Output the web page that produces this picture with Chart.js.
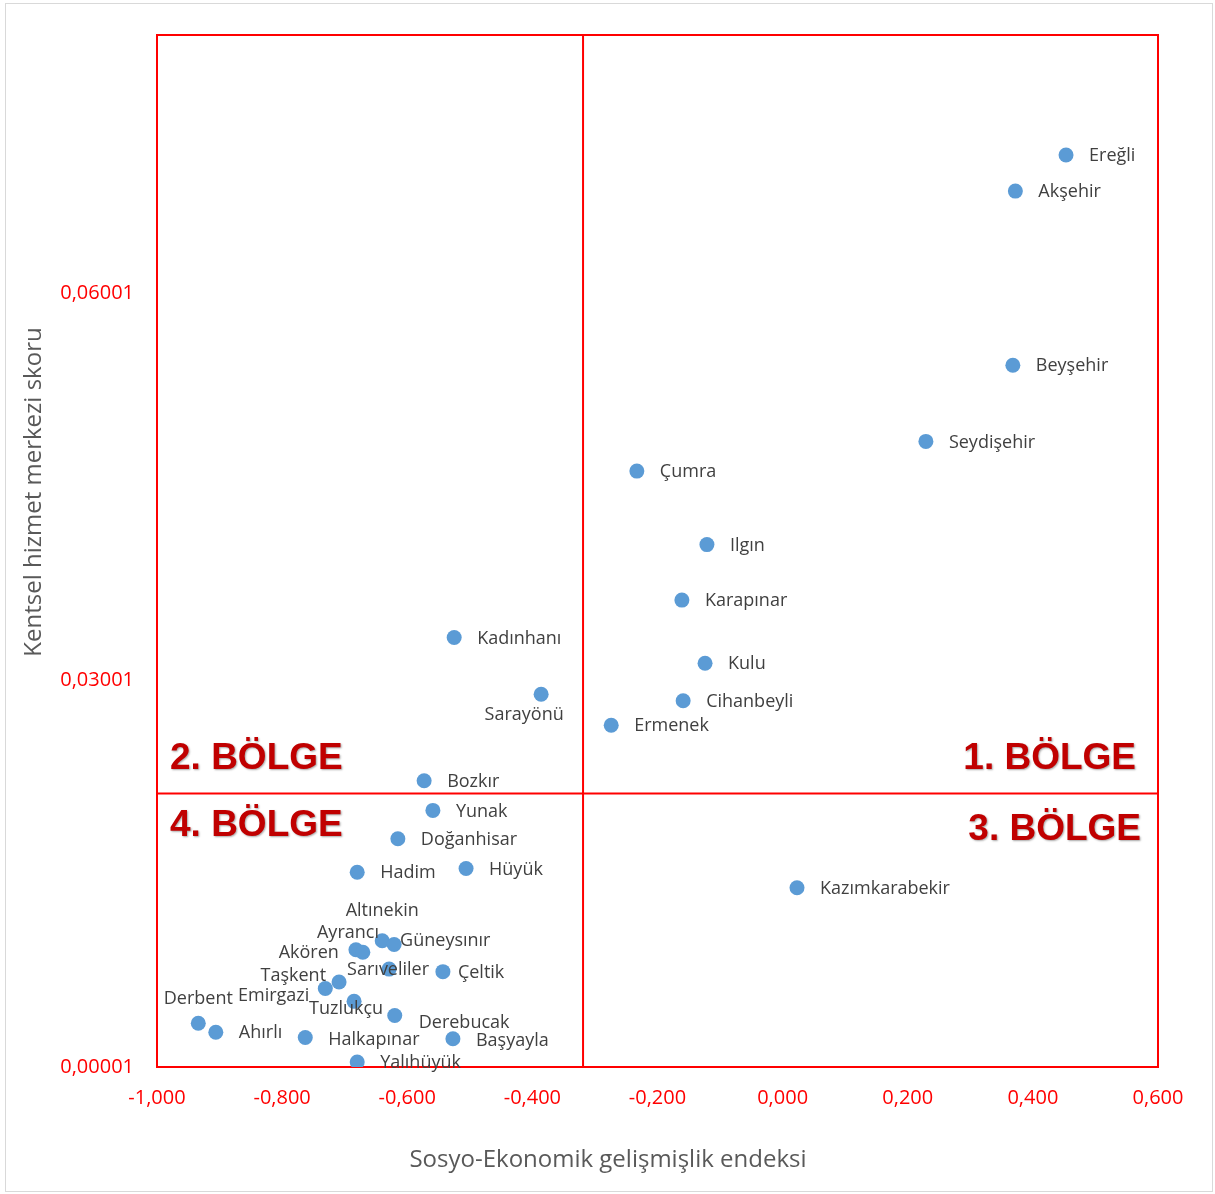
<!DOCTYPE html>
<html>
<head>
<meta charset="utf-8">
<script src="https://cdn.jsdelivr.net/npm/chart.js@4"></script>
<style>
  body { margin: 0; background: #fff; }
  canvas { display: block; }
</style>
</head>
<body>
<canvas id="chart" width="1215" height="1194"></canvas>
<script>
  // District names and their two scores
  const districts = ['Ereğli', 'Akşehir', 'Beyşehir', 'Seydişehir', 'Çumra', 'Ilgın', 'Karapınar', 'Kulu',
    'Cihanbeyli', 'Ermenek', 'Kadınhanı', 'Sarayönü', 'Bozkır', 'Yunak', 'Doğanhisar', 'Hadim', 'Hüyük',
    'Kazımkarabekir', 'Altınekin', 'Güneysınır', 'Ayrancı', 'Akören', 'Sarıveliler', 'Çeltik', 'Taşkent',
    'Emirgazi', 'Tuzlukçu', 'Derebucak', 'Derbent', 'Ahırlı', 'Halkapınar', 'Başyayla', 'Yalıhüyük'];
  const socioIndex = [0.453, 0.372, 0.368, 0.229, -0.233, -0.121, -0.161, -0.124,
    -0.159, -0.274, -0.525, -0.386, -0.573, -0.559, -0.615, -0.680, -0.506,
    0.023, -0.640, -0.621, -0.682, -0.671, -0.629, -0.543, -0.709,
    -0.731, -0.685, -0.620, -0.934, -0.906, -0.763, -0.527, -0.680];
  const serviceScore = [0.0707, 0.0679, 0.0544, 0.0485, 0.0462, 0.0405, 0.0362, 0.0313,
    0.0284, 0.0265, 0.0333, 0.0289, 0.0222, 0.0199, 0.0177, 0.0151, 0.0154,
    0.0139, 0.0098, 0.0095, 0.0091, 0.0089, 0.0076, 0.0074, 0.0066,
    0.0061, 0.0051, 0.0040, 0.0034, 0.0027, 0.0023, 0.0022, 0.0004];

  const yTickValues = [0.00001, 0.03001, 0.06001];
  const quadrantX = -0.319;
  const quadrantY = 0.0212;
  const regionNames = ['1. BÖLGE', '2. BÖLGE', '3. BÖLGE', '4. BÖLGE'];

  // where each data label sits relative to its point (default: right of point)
  const defaultPlace = { dx: 23, dy: 1, align: 'left' };
  const labelPlace = {
    'Sarayönü': { dx: -17, dy: 21, align: 'center' },
    'Altınekin': { dx: 0, dy: -30, align: 'center' },
    'Ayrancı': { dx: 23, dy: -17, align: 'right' },
    'Akören': { dx: -24, dy: 1, align: 'right' },
    'Güneysınır': { dx: 6, dy: -4, align: 'left' },
    'Sarıveliler': { dx: -42, dy: 1, align: 'left' },
    'Çeltik': { dx: 15, dy: 1, align: 'left' },
    'Taşkent': { dx: -13, dy: -6, align: 'right' },
    'Emirgazi': { dx: -16, dy: 7, align: 'right' },
    'Derbent': { dx: 0, dy: -24, align: 'center' },
    'Tuzlukçu': { dx: -8, dy: 8, align: 'center' },
    'Derebucak': { dx: 24, dy: 7, align: 'left' },
    'Halkapınar': { dx: 23, dy: 2, align: 'left' },
    'Başyayla': { dx: 23, dy: 2, align: 'left' }
  };

  const RED = '#FF0000';
  const fmt = (v, d) => (Math.abs(v) < 1e-9 ? 0 : v).toFixed(d).replace('.', ',');

  const decorPlugin = {
    id: 'decor',
    beforeDraw(chart) {
      const ctx = chart.ctx;
      ctx.save();
      ctx.strokeStyle = '#D9D9D9';
      ctx.lineWidth = 1;
      ctx.strokeRect(5.5, 3.5, 1207, 1188);
      ctx.restore();
    },
    beforeDatasetsDraw(chart) {
      const { ctx, chartArea: a, scales } = chart;
      const qx = scales.x.getPixelForValue(quadrantX);
      const qy = scales.y.getPixelForValue(quadrantY);
      ctx.save();
      ctx.strokeStyle = RED;
      ctx.lineWidth = 2;
      ctx.strokeRect(a.left, a.top, a.right - a.left, a.bottom - a.top);
      ctx.beginPath();
      ctx.moveTo(qx, a.top); ctx.lineTo(qx, a.bottom);
      ctx.moveTo(a.left, qy); ctx.lineTo(a.right, qy);
      ctx.stroke();

      // axis titles
      ctx.fillStyle = '#595959';
      ctx.font = '24px "Open Sans"';
      ctx.textAlign = 'center';
      ctx.textBaseline = 'middle';
      ctx.fillText('Sosyo-Ekonomik gelişmişlik endeksi', 608, 1160);
      ctx.translate(34, 492);
      ctx.rotate(-Math.PI / 2);
      ctx.fillText('Kentsel hizmet merkezi skoru', 0, 0);
      ctx.restore();
    },
    afterDatasetsDraw(chart) {
      const { ctx, chartArea: a, scales } = chart;
      const meta = chart.getDatasetMeta(0);
      ctx.save();
      ctx.fillStyle = '#404040';
      ctx.font = '18px "Open Sans"';
      ctx.textBaseline = 'middle';
      meta.data.forEach((pt, i) => {
        const p = labelPlace[districts[i]] || defaultPlace;
        ctx.textAlign = p.align;
        ctx.fillText(districts[i], pt.x + p.dx, pt.y + p.dy);
      });

      // region captions
      const qy = scales.y.getPixelForValue(quadrantY);
      ctx.font = 'bold 37px "Liberation Sans"';
      ctx.fillStyle = '#C00000';
      ctx.shadowColor = 'rgba(0,0,0,0.35)';
      ctx.shadowBlur = 2;
      ctx.shadowOffsetX = 1;
      ctx.shadowOffsetY = 1;
      ctx.textAlign = 'right';
      ctx.fillText(regionNames[0], a.right - 22, qy - 35);
      ctx.fillText(regionNames[2], a.right - 17, qy + 36);
      ctx.textAlign = 'left';
      ctx.fillText(regionNames[1], a.left + 13, qy - 35);
      ctx.fillText(regionNames[3], a.left + 13, qy + 32);
      ctx.restore();
    }
  };

  new Chart(document.getElementById('chart'), {
    type: 'scatter',
    data: {
      datasets: [{
        data: districts.map((d, i) => ({ x: socioIndex[i], y: serviceScore[i] })),
        backgroundColor: '#5B9BD5',
        borderWidth: 0,
        pointRadius: 7.5
      }]
    },
    options: {
      responsive: false,
      animation: false,
      layout: { padding: { top: 34, right: 57, left: 0, bottom: 0 } },
      plugins: { legend: { display: false }, tooltip: { enabled: false } },
      scales: {
        x: {
          min: -1, max: 0.6,
          grid: { display: false, drawTicks: false },
          border: { display: false },
          ticks: { stepSize: 0.2, padding: 19, color: RED, font: { family: 'Open Sans', size: 20 },
            callback: v => fmt(v, 3) },
          afterFit: s => { s.height = 127; }
        },
        y: {
          min: 0.00001, max: 0.08,
          grid: { display: false, drawTicks: false },
          border: { display: false },
          afterBuildTicks: s => { s.ticks = yTickValues.map(v => ({ value: v })); },
          ticks: { padding: 23, color: RED, font: { family: 'Open Sans', size: 20 },
            callback: v => fmt(v, 5) },
          afterFit: s => { s.width = 157; }
        }
      }
    },
    plugins: [decorPlugin]
  });
</script>
</body>
</html>
